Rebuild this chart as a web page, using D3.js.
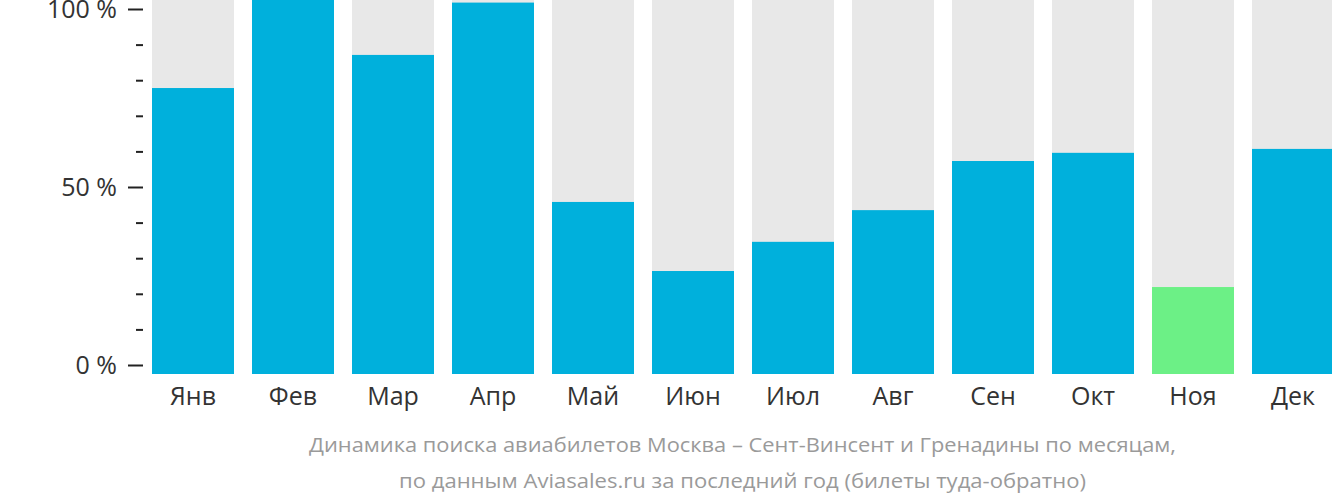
<!DOCTYPE html>
<html><head><meta charset="utf-8">
<script src="https://cdn.jsdelivr.net/npm/d3@7"></script>
<style>
html,body{margin:0;padding:0;background:#fff;}
svg{display:block;}
</style></head>
<body>
<svg id="c" width="1332" height="502"></svg>
<script>
const months = ["Янв","Фев","Мар","Апр","Май","Июн","Июл","Авг","Сен","Окт","Ноя","Дек"];
const values = [77.8, 102.6, 87.1, 101.8, 45.8, 26.4, 34.6, 43.5, 57.3, 59.6, 21.9, 60.7];
const highlight = [false,false,false,false,false,false,false,false,false,false,true,false];
const majorTicks = [0, 50, 100];
const minorTicks = [10,20,30,40,60,70,80,90];
const captionLines = ["Динамика поиска авиабилетов Москва – Сент-Винсент и Гренадины по месяцам,",
                      "по данным Aviasales.ru за последний год (билеты туда-обратно)"];

const svg = d3.select("#c");
const x = d3.scaleBand().domain(months).range([143, 1343]).paddingInner(0.18).paddingOuter(0.09);
const y = d3.scaleLinear().domain([0, 100]).range([365, 9]);
const barBottom = 374;

const g = svg.append("g");
g.selectAll("rect.bg").data(months).join("rect")
  .attr("class","bg")
  .attr("x", d => x(d)).attr("width", x.bandwidth())
  .attr("y", 0).attr("height", barBottom)
  .attr("fill", "#e8e8e8");
g.selectAll("rect.bar").data(values).join("rect")
  .attr("class","bar")
  .attr("x", (d,i) => x(months[i])).attr("width", x.bandwidth())
  .attr("y", d => y(d)).attr("height", d => barBottom - y(d))
  .attr("fill", (d,i) => highlight[i] ? "#6cf086" : "#00b0dc");

// y axis
const yAxis = d3.axisLeft(y).tickValues(majorTicks).tickSize(15).tickPadding(11)
  .tickFormat(d => d + " %");
const ya = svg.append("g").attr("transform","translate(143,0)").call(yAxis);
ya.select(".domain").remove();
ya.selectAll(".tick line").attr("stroke","#222").attr("stroke-width",2);
ya.selectAll(".tick text").attr("fill","#333").attr("font-family","'Open Sans', sans-serif").attr("font-size",25);

const yMinor = d3.axisLeft(y).tickValues(minorTicks).tickSize(7).tickFormat("");
const ym = svg.append("g").attr("transform","translate(143,0)").call(yMinor);
ym.select(".domain").remove();
ym.selectAll(".tick line").attr("stroke","#222").attr("stroke-width",2);

// x axis
const xAxis = d3.axisBottom(x).tickSize(0).tickPadding(13);
const xa = svg.append("g").attr("transform",`translate(0,${barBottom})`).call(xAxis);
xa.select(".domain").remove();
xa.selectAll(".tick text").attr("fill","#333").attr("font-family","'Open Sans', sans-serif").attr("font-size",25);

// caption
svg.selectAll("text.cap").data(captionLines).join("text")
  .attr("class","cap")
  .attr("x", 742.5)
  .attr("y", (d,i) => i === 0 ? 452 : 488)
  .attr("text-anchor","middle")
  .attr("fill","#9a9a9a")
  .attr("font-family","'Open Sans', sans-serif")
  .attr("font-size",20.5)
  .attr("textLength", (d,i) => i === 0 ? 867 : 687)
  .attr("lengthAdjust","spacingAndGlyphs")
  .text(d => d);
</script>
</body></html>
